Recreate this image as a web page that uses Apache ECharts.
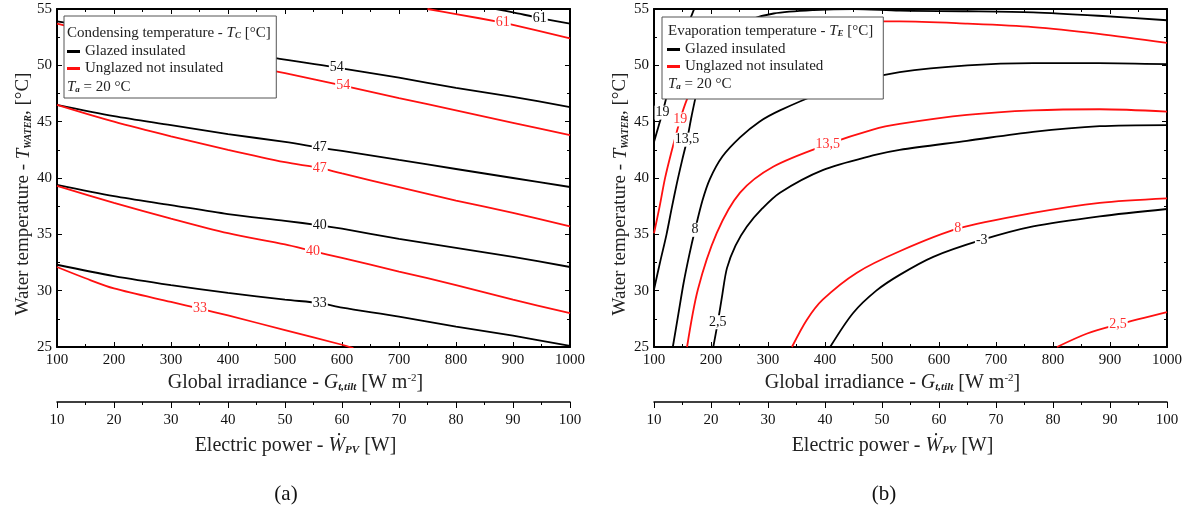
<!DOCTYPE html>
<html>
<head>
	<meta charset="utf-8">
	<title>Condensing / evaporation temperature</title>
	<script type="text/javascript" src="https://cdn.jsdelivr.net/npm/echarts@6/dist/echarts.min.js"></script>
</head>
<body style="margin:0">
<div id="main" style="width: 1188px; height: 510px"></div>

<script type="text/javascript">
// ticks
var irrTicks = [100, 1000, 100];
var powerTicks = [10, 100, 10];
var waterTicks = [25, 55, 5];

// (a) condensing temperature, [G, Twater]
var condGlazed33 = [[100,32.3],[200,31.3],[300,30.5],[400,29.8],[500,29.2],[561,28.9],[600,28.5],[700,27.7],[800,26.8],[900,26.0],[1000,25.1]];
var condGlazed40 = [[100,39.4],[200,38.4],[300,37.6],[400,36.8],[500,36.2],[561,35.8],[600,35.5],[700,34.6],[800,33.8],[900,33.0],[1000,32.1]];
var condGlazed47 = [[100,46.5],[200,45.5],[300,44.7],[400,43.9],[500,43.2],[561,42.7],[600,42.4],[700,41.6],[800,40.8],[900,40.0],[1000,39.2]];
var condGlazed54 = [[100,53.9],[200,53.1],[300,52.2],[400,51.4],[500,50.5],[591,49.8],[700,48.9],[800,48.0],[900,47.2],[1000,46.3]];
var condGlazed61 = [[870,55.0],[900,54.7],[947,54.2],[1000,53.7]];
var condUnglazed33 = [[100,32.1],[150,31.1],[200,30.2],[300,29.0],[351,28.4],[400,27.8],[500,26.5],[600,25.2],[620,24.9]];
var condUnglazed40 = [[100,39.3],[200,37.8],[300,36.4],[400,35.1],[500,34.1],[549,33.5],[600,32.9],[700,31.7],[800,30.5],[900,29.2],[1000,28.0]];
var condUnglazed47 = [[100,46.5],[200,45.0],[300,43.7],[400,42.5],[500,41.4],[561,40.9],[600,40.4],[700,39.2],[800,38.0],[900,36.9],[1000,35.7]];
var condUnglazed54 = [[100,53.7],[200,52.5],[300,51.4],[400,50.3],[500,49.3],[602,48.2],[700,47.1],[800,46.0],[900,44.9],[1000,43.8]];
var condUnglazed61 = [[750,55.0],[800,54.55],[882,53.8],[900,53.6],[1000,52.4]];

// (b) evaporation temperature
var evapGlazed19 = [[100,43.2],[108,44.6],[115,45.8],[122,47.2],[135,49.8],[150,52.3],[172,55.2]];
var evapGlazed13_5 = [[100,30.1],[111,32.6],[122,35.0],[131,37.3],[140,39.5],[149,41.5],[158,43.4],[166,45.5],[175,47.6],[187,49.7],[205,51.6],[230,53.0],[265,54.0],[310,54.6],[380,54.9],[450,55.0],[531,54.85],[650,54.8],[765,54.7],[880,54.4],[1000,54.0]];
var evapGlazed8 = [[133,25],[143,28.0],[152,30.7],[162,33.2],[172,35.4],[185,38.0],[198,39.9],[220,41.9],[251,43.6],[285,45.0],[321,46.0],[391,47.5],[460,48.6],[531,49.4],[650,50.0],[765,50.2],[880,50.2],[1000,50.1]];
var evapGlazed2_5 = [[204,25],[212,27.2],[220,29.7],[228,32.0],[243,34.0],[263,35.7],[290,37.3],[321,38.7],[396,40.7],[484,42.0],[531,42.5],[649,43.3],[765,44.1],[882,44.6],[1000,44.7]];
var evapGlazedM3 = [[409,25],[449,28.0],[490,30.0],[531,31.4],[590,33.0],[675,34.5],[765,35.7],[882,36.6],[1000,37.25]];
var evapUnglazed19 = [[100,35.1],[110,37.5],[119,39.9],[130,42.2],[146,45.2],[158,47.0],[180,49.5],[220,51.6],[280,52.9],[350,53.6],[430,53.9],[531,53.9],[650,53.7],[765,53.4],[880,52.8],[1000,52.0]];
var evapUnglazed13_5 = [[158,25],[177,30.1],[210,35.1],[251,38.7],[309,41.0],[405,43.0],[484,44.3],[531,44.8],[649,45.6],[765,46.0],[882,46.1],[1000,45.9]];
var evapUnglazed8 = [[342,25],[368,27.4],[396,29.2],[456,31.6],[531,33.5],[633,35.5],[765,36.9],[882,37.8],[1000,38.2]];
var evapUnglazed2_5 = [[807,25],[860,26.2],[914,27.0],[1000,28.1]];

var FONT = 'Liberation Serif';
var BLACK = '#000';
var RED = '#ff1010';
var GLAZED = 'Glazed insulated';
var UNGLAZED = 'Unglazed not insulated';

var myChart = echarts.init(document.getElementById('main'));

function richFor(size) {
    return {
        i: {fontFamily: FONT, fontSize: size, fontStyle: 'italic', color: '#222'},
        s: {fontFamily: FONT, fontSize: Math.round(size * 0.55), fontStyle: 'italic', fontWeight: 'bold', color: '#222', verticalAlign: 'bottom', padding: [6, 0, 0, 0]},
        p: {fontFamily: FONT, fontSize: Math.round(size * 0.55), color: '#222', verticalAlign: 'top', padding: [0, 0, 7, 0]}
    };
}
// names sit a bit off the centre of the axis in the original
var xNameStyle = {fontFamily: FONT, fontSize: 20, color: '#222', rich: richFor(20), padding: [0, 36, 0, 0]};
var yNameStyle = {fontFamily: FONT, fontSize: 19, color: '#222', rich: richFor(19), padding: [0, 32, 0, 0]};

function line(data, name, color, labelIdx, labelText, axis) {
    return {
        type: 'line',
        name: name,
        xAxisIndex: axis,
        yAxisIndex: axis,
        data: data.map(function (p, i) {
            if (i !== labelIdx) return p;
            return {
                value: p,
                label: {
                    show: true, position: 'inside', formatter: labelText,
                    fontFamily: FONT, fontSize: 14, color: color === BLACK ? '#111' : '#ff3030',
                    backgroundColor: '#fff', padding: [0, 1]
                }
            };
        }),
        symbol: 'circle',
        symbolSize: 0,
        showSymbol: true,
        showAllSymbol: true,
        smooth: 0.3,
        lineStyle: {color: color, width: 1.8},
        itemStyle: {color: color},
        silent: true,
        animation: false
    };
}

function plain(v) {
    return String(v);
}

function mainX(grid, pos) {
    var ax = {
        gridIndex: grid, type: 'value', position: pos,
        min: irrTicks[0], max: irrTicks[1], interval: irrTicks[2],
        axisLine: {lineStyle: {color: '#000', width: 2}},
        axisTick: {inside: true, length: 5, lineStyle: {color: '#000'}},
        minorTick: {show: true, splitNumber: 2, length: 3, lineStyle: {color: '#000'}},
        splitLine: {show: false},
        axisLabel: {show: pos === 'bottom', formatter: plain, color: '#111', fontFamily: FONT, fontSize: 15, margin: 6, showMinLabel: true, showMaxLabel: true}
    };
    if (pos === 'bottom') {
        ax.name = 'Global irradiance - {i|G}{s|t,tilt} [W m{p|-2}]';
        ax.nameLocation = 'middle';
        ax.nameGap = 26;
        ax.nameTextStyle = xNameStyle;
    }
    return ax;
}

function mainY(grid, pos) {
    var ax = {
        gridIndex: grid, type: 'value', position: pos,
        min: waterTicks[0], max: waterTicks[1], interval: waterTicks[2],
        axisLine: {lineStyle: {color: '#000', width: 2}},
        axisTick: {inside: true, length: 5, lineStyle: {color: '#000'}},
        minorTick: {show: true, splitNumber: 2, length: 3, lineStyle: {color: '#000'}},
        splitLine: {show: false},
        axisLabel: {show: pos === 'left', formatter: plain, color: '#111', fontFamily: FONT, fontSize: 15, margin: 5, showMinLabel: true, showMaxLabel: true}
    };
    if (pos === 'left') {
        ax.name = 'Water temperature - {i|T}{s|WATER}, [°C]';
        ax.nameLocation = 'middle';
        ax.nameGap = 24;
        ax.nameTextStyle = yNameStyle;
    }
    return ax;
}

function powerX(grid) {
    return {
        gridIndex: grid, type: 'value', position: 'bottom',
        min: powerTicks[0], max: powerTicks[1], interval: powerTicks[2],
        axisLine: {lineStyle: {color: '#000', width: 1.5}},
        axisTick: {inside: false, length: 6, lineStyle: {color: '#000'}},
        minorTick: {show: true, splitNumber: 2, length: 3, lineStyle: {color: '#000'}},
        splitLine: {show: false},
        axisLabel: {formatter: plain, color: '#111', fontFamily: FONT, fontSize: 15, margin: 11, showMinLabel: true, showMaxLabel: true},
        name: 'Electric power - {i|Ẇ}{s|PV} [W]',
        nameLocation: 'middle',
        nameGap: 34,
        nameTextStyle: xNameStyle
    };
}

function dummyY(grid) {
    return {gridIndex: grid, type: 'value', show: false, min: 0, max: 1};
}

function legendTitle(x, y, text) {
    return {
        type: 'text', x: x, y: y, z: 10,
        style: {
            text: text, fill: '#222', font: '15px ' + FONT, verticalAlign: 'middle',
            rich: {
                n: {fontFamily: FONT, fontSize: 15, color: '#222'},
                i: {fontFamily: FONT, fontSize: 15, fontStyle: 'italic', color: '#222'},
                s: {fontFamily: FONT, fontSize: 9, fontStyle: 'italic', fontWeight: 'bold', color: '#222', verticalAlign: 'bottom', padding: [5, 0, 0, 0]}
            }
        }
    };
}

function legendBox(left, top, padding) {
    return {
        data: [GLAZED, UNGLAZED],
        orient: 'vertical',
        left: left, top: top,
        padding: padding,
        itemGap: 2,
        itemWidth: 13, itemHeight: 3,
        icon: 'rect',
        backgroundColor: '#fff',
        borderColor: '#555',
        borderWidth: 1,
        selectedMode: false,
        textStyle: {fontFamily: FONT, fontSize: 15, color: '#222'}
    };
}

option = {
    animation: false,
    grid: [
        {left: 57, top: 9, width: 513, height: 338},
        {left: 57, top: 401, width: 513, height: 1},
        {left: 654, top: 9, width: 513, height: 338},
        {left: 654, top: 401, width: 513, height: 1}
    ],
    xAxis: [
        mainX(0, 'bottom'), mainX(0, 'top'), powerX(1),
        mainX(2, 'bottom'), mainX(2, 'top'), powerX(3)
    ],
    yAxis: [
        mainY(0, 'left'), mainY(0, 'right'), dummyY(1),
        mainY(2, 'left'), mainY(2, 'right'), dummyY(3)
    ],
    legend: [
        legendBox(64, 16, [28, 53, 22, 3]),
        legendBox(662, 17, [25, 60, 25, 5])
    ],
    graphic: [
        legendTitle(67, 33, '{n|Condensing temperature - }{i|T}{s|C}{n| [°C]}'),
        legendTitle(67, 87, '{i|T}{s|a}{n| = 20 °C}'),
        legendTitle(668, 31, '{n|Evaporation temperature - }{i|T}{s|E}{n| [°C]}'),
        legendTitle(668, 84, '{i|T}{s|a}{n| = 20 °C}'),
        {type: 'text', x: 286, y: 494, style: {text: '(a)', fill: '#111', font: '21px ' + FONT, align: 'center', verticalAlign: 'middle'}},
        {type: 'text', x: 884, y: 494, style: {text: '(b)', fill: '#111', font: '21px ' + FONT, align: 'center', verticalAlign: 'middle'}}
    ],
    series: [
        line(condGlazed33, GLAZED, BLACK, 5, '33', 0),
        line(condGlazed40, GLAZED, BLACK, 5, '40', 0),
        line(condGlazed47, GLAZED, BLACK, 5, '47', 0),
        line(condGlazed54, GLAZED, BLACK, 5, '54', 0),
        line(condGlazed61, GLAZED, BLACK, 2, '61', 0),
        line(condUnglazed33, UNGLAZED, RED, 4, '33', 0),
        line(condUnglazed40, UNGLAZED, RED, 5, '40', 0),
        line(condUnglazed47, UNGLAZED, RED, 5, '47', 0),
        line(condUnglazed54, UNGLAZED, RED, 5, '54', 0),
        line(condUnglazed61, UNGLAZED, RED, 2, '61', 0),

        line(evapGlazed19, GLAZED, BLACK, 2, '19', 3),
        line(evapGlazed13_5, GLAZED, BLACK, 6, '13,5', 3),
        line(evapGlazed8, GLAZED, BLACK, 4, '8', 3),
        line(evapGlazed2_5, GLAZED, BLACK, 1, '2,5', 3),
        line(evapGlazedM3, GLAZED, BLACK, 5, '-3', 3),
        line(evapUnglazed19, UNGLAZED, RED, 4, '19', 3),
        line(evapUnglazed13_5, UNGLAZED, RED, 5, '13,5', 3),
        line(evapUnglazed8, UNGLAZED, RED, 5, '8', 3),
        line(evapUnglazed2_5, UNGLAZED, RED, 2, '2,5', 3)
    ]
};

myChart.setOption(option);
</script>
</body>
</html>
